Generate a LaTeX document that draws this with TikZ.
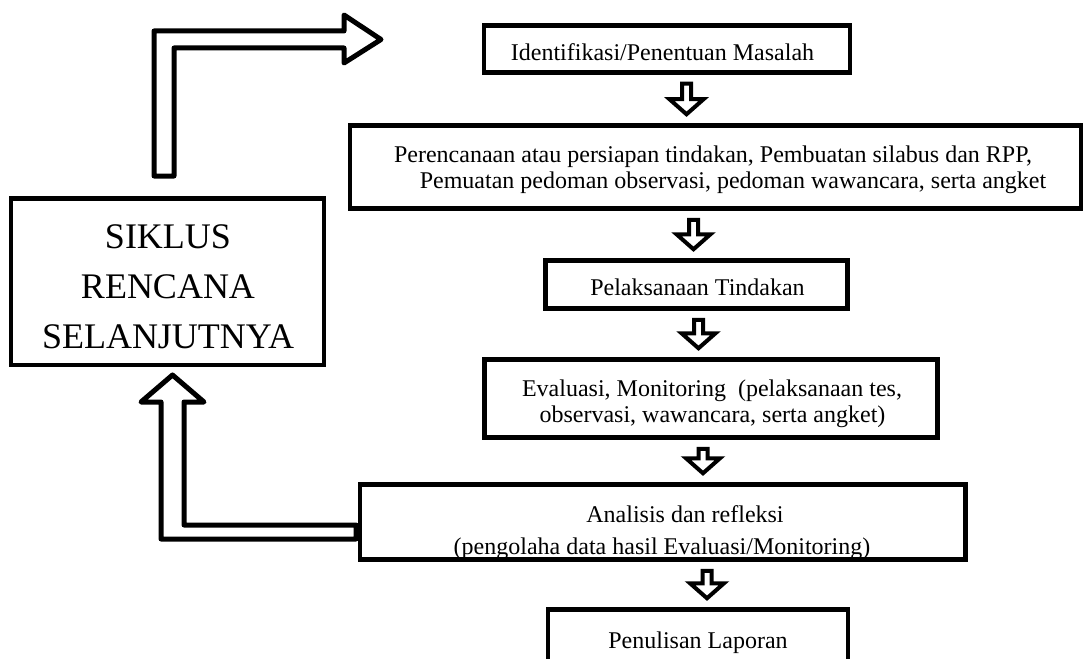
\documentclass[tikz,border=0pt]{standalone}
\usepackage{fontspec}
\setmainfont{Liberation Serif}
\usetikzlibrary{calc}
\newcommand\blkdown[3]{%
  \draw[blk] let \p1=(#2.south), \p2=(#3.north) in
    (#1pt-4.5pt,\y1-9pt) -- (#1pt+4.5pt,\y1-9pt) -- (#1pt+4.5pt,\y2+24pt) -- (#1pt+17pt,\y2+24pt)
    -- (#1pt,\y2+9pt) -- (#1pt-17pt,\y2+24pt) -- (#1pt-4.5pt,\y2+24pt) -- cycle;}
\begin{document}
\begin{tikzpicture}[x=1pt,y=-1pt,
  box/.style={draw, line width=4.5pt, rectangle, inner sep=0pt},
  txt/.style={font=\fontsize{24}{28}\selectfont, anchor=base, inner sep=0pt},
  big/.style={font=\fontsize{36}{40}\selectfont, anchor=base, inner sep=0pt},
  blk/.style={draw, line width=4pt, fill=white, miter limit=10},
  lblk/.style={draw, line width=5pt, fill=white, line join=round}]
\path[use as bounding box, fill=white] (0,0) rectangle (1091,658);

% main boxes
\node[box, minimum width=366pt, minimum height=47pt] (idn) at (667,49) {};
\node[txt] (idnt) at (662.5,61) {Identifikasi/Penentuan Masalah};

\node[box, minimum width=731pt, minimum height=83pt] (plan) at (715.5,167) {};
\node[txt] (plant1) at (713,162) {Perencanaan atau persiapan tindakan, Pembuatan silabus dan RPP,};
\node[txt] (plant2) at (733,188) {Pemuatan pedoman observasi, pedoman wawancara, serta angket};

\node[box, minimum width=302pt, minimum height=48pt] (act) at (696.5,284.5) {};
\node[txt] (actt) at (697.5,295) {Pelaksanaan Tindakan};

\node[box, minimum width=453pt, minimum height=78pt] (eval) at (711,398.5) {};
\node[txt] (evalt1) at (712,396) {Evaluasi, Monitoring\ \ (pelaksanaan tes,};
\node[txt] (evalt2) at (712.5,422) {observasi, wawancara, serta angket)};

\node[box, minimum width=605.5pt, minimum height=75pt] (anal) at (662.75,522) {};
\begin{scope}
  \clip (anal.north west) rectangle (anal.south east);
  \node[txt] (analt1) at (685,522) {Analisis dan refleksi};
  \node[txt] (analt2) at (662,554) {(pengolaha data hasil Evaluasi/Monitoring)};
\end{scope}

\node[box, minimum width=300pt, minimum height=70pt] (rep) at (698,644.5) {};
\node[txt] (rept) at (698,648) {Penulisan Laporan};

% left box
\node[box, minimum width=313pt, minimum height=166.5pt] (sik) at (167.5,281.5) {};
\node[big] (sik1) at (168,248) {SIKLUS};
\node[big] (sik2) at (168,298) {RENCANA};
\node[big] (sik3) at (168,348) {SELANJUTNYA};

% small block arrows
\blkdown{686.5}{idn}{plan}
\blkdown{693.5}{plan}{act}
\blkdown{698.5}{act}{eval}
\blkdown{703}{eval}{anal}
\blkdown{707}{anal}{rep}

% big L arrows
\coordinate (topL) at (154,176);
\draw[lblk] (topL) -- (154,31) -- (344,31) -- (344,15) -- (381,39.5) -- (344,63) -- (344,48)
  -- (174,48) -- (174,176) -- cycle;
\coordinate (botL) at (356,539);
\draw[lblk] (botL) -- (161,539) -- (161,402) -- (141,402) -- (172.5,375) -- (204,402) -- (184,402)
  -- (184,525) -- (356,525) -- cycle;
\end{tikzpicture}
\end{document}
